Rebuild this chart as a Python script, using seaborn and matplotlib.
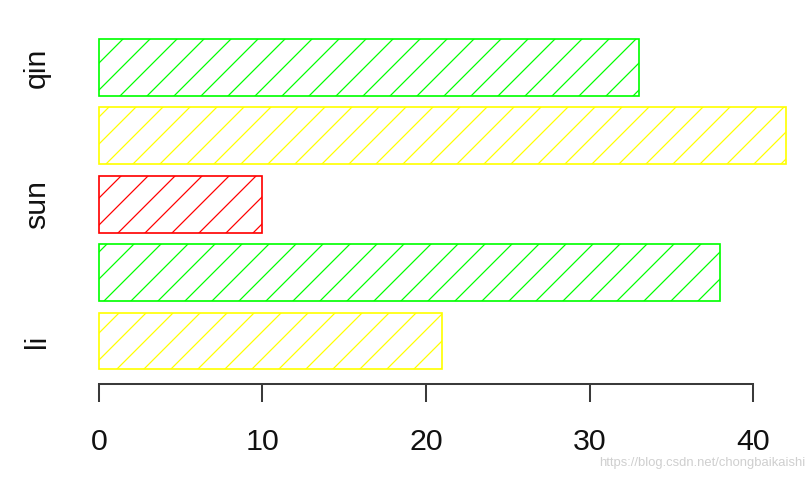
import pandas as pd
import seaborn as sns
import matplotlib.pyplot as plt

# bars from bottom to top, as in the R barplot
names = ["li", "b2", "sun", "b4", "qin"]
tick_labels = ["li", "", "sun", "", "qin"]
values = [21, 38, 10, 42, 33]
colors = ["#FFFF00", "#00FF00", "#FF0000", "#FFFF00", "#00FF00"]
x_ticks = [0, 10, 20, 30, 40]

DPI = 162


def main():
    sns.set_style("white")
    plt.rcParams['font.family'] = ['Liberation Sans', 'DejaVu Sans']
    plt.rcParams['hatch.linewidth'] = 0.55

    df = pd.DataFrame({"name": names, "value": values})
    order = names[::-1]
    pal = dict(zip(names, colors))

    fig = plt.figure(figsize=(808 / DPI, 480 / DPI), dpi=DPI)
    ax = fig.add_axes([71.5 / 808, 0.2, (808 - 71.5) / 808, 0.74375])
    sns.barplot(data=df, x="value", y="name", order=order, hue="name",
                palette=pal, fill=False, width=0.833, linewidth=0.75,
                legend=False, ax=ax)

    for p in ax.patches:
        ec = p.get_edgecolor()
        p.set_hatch('//')
        if hasattr(p, 'set_hatchcolor'):
            p.set_hatchcolor(ec)
        p.set_edgecolor(ec)

    ax.set_xlim(-1.68, 43.36)
    ax.set_ylim(4.629, -0.592)
    for s in ['top', 'right', 'left']:
        ax.spines[s].set_visible(False)
    ax.spines['bottom'].set_bounds(0, 40)
    ax.spines['bottom'].set_color('#3a3a3a')
    ax.spines['bottom'].set_linewidth(0.9)

    ax.set_xticks(x_ticks)
    ax.set_xticklabels([str(t) for t in x_ticks])
    ax.set_yticks(range(len(order)))
    ax.set_yticklabels(tick_labels[::-1], rotation=90, va='center')
    ax.tick_params(axis='x', direction='out', length=8, width=0.9,
                   color='#3a3a3a', pad=11.5, labelsize=13.5,
                   labelcolor='#111111', bottom=True)
    ax.tick_params(axis='y', length=0, pad=9, labelsize=13.5,
                   labelcolor='#111111')
    ax.set_xlabel("")
    ax.set_ylabel("")

    fig.text(0.997, 0.035, "https://blog.csdn.net/chongbaikaishi",
             ha='right', va='center', color='#cfcfcf', fontsize=5.8,
             family=['Liberation Sans Narrow', 'Liberation Sans'])

    fig.savefig("out.png", dpi=DPI)


if __name__ == '__main__':
    main()
